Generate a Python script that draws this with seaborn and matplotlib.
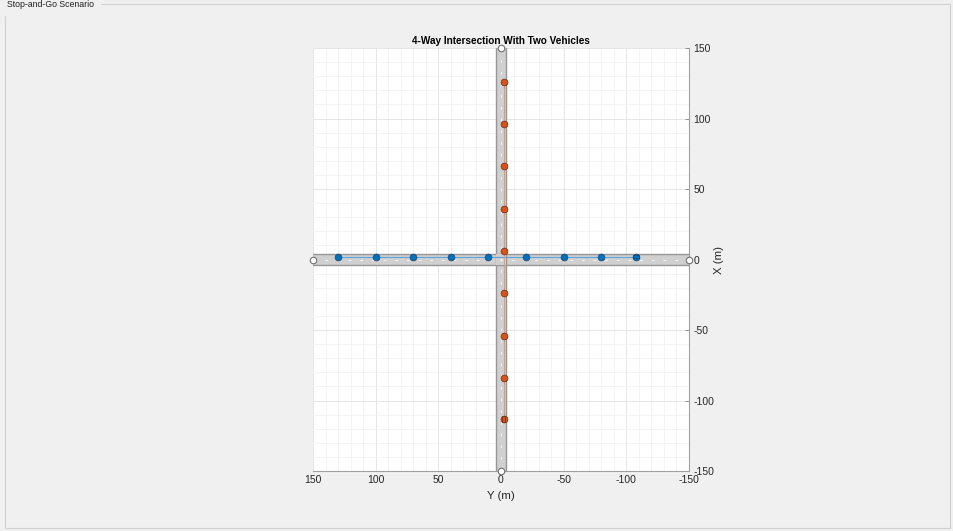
import numpy as np
import pandas as pd
import seaborn as sns
import matplotlib
matplotlib.use("Agg")
import matplotlib.pyplot as plt
from matplotlib.patches import Rectangle

# ---------------- data ----------------
title = "4-Way Intersection With Two Vehicles"
panel_title = "Stop-and-Go Scenario"
xlabel = "Y (m)"
ylabel = "X (m)"
ticks = [150, 100, 50, 0, -50, -100, -150]

# roads (centre lines) : road 1 runs along Y (X = 0), road 2 runs along X (Y = 0)
road_width = 8
road1_Y = [150, -150]
road1_X = [0, 0]
road2_Y = [0, 0]
road2_X = [150, -150]

# vehicle 1 (blue) waypoints
car1_Y = [130, 100, 70, 40, 10, -20, -50, -80, -108]
car1_X = [2, 2, 2, 2, 2, 2, 2, 2, 2]
# vehicle 2 (orange) waypoints
car2_Y = [-2, -2, -2, -2, -2, -2, -2, -2, -2]
car2_X = [126, 96, 66, 36, 6, -24, -54, -84, -113]

blue = "#0072BD"
orange = "#D95319"
bg = "#f0f0f0"

sns.set_theme(style="white")
plt.rcParams["font.family"] = ["Liberation Sans", "DejaVu Sans"]

fig = plt.figure(figsize=(9.54, 5.31), dpi=100, facecolor=bg)

# panel frame
fig.patches.append(Rectangle((5 / 954, 1 - 528 / 531), 945 / 954, 524 / 531,
                             transform=fig.transFigure, fill=False,
                             edgecolor="#d0d0d0", linewidth=0.8))
fig.text(7 / 954, 1 - 4.5 / 531, panel_title, fontsize=6.3, va="center", ha="left",
         color="#202020", backgroundcolor=bg)

ax = fig.add_axes([313 / 954, 1 - 471 / 531, 376 / 954, 423 / 531])
ax.set_facecolor("white")
ax.set_xlim(150, -150)
ax.set_ylim(-150, 150)

# grid
ax.set_xticks(ticks)
ax.set_yticks(ticks)
ax.set_xticks(np.arange(-150, 151, 10), minor=True)
ax.set_yticks(np.arange(-150, 151, 10), minor=True)
ax.grid(which="major", color="#e6e6e6", linewidth=0.7)
ax.grid(which="minor", color="#f3f3f3", linewidth=0.6)
ax.set_axisbelow(True)

road_fill = "#d0d0d0"
road_edge = "#979797"
hw = road_width / 2

# road 1 (horizontal on screen)
ax.fill_between(road1_Y, [v - hw for v in road1_X], [v + hw for v in road1_X],
                color=road_fill, zorder=2, linewidth=0)
for s in (-hw, hw):
    ax.plot(road1_Y, [v + s for v in road1_X], color=road_edge, lw=1.0, zorder=3)
# road 2 (vertical on screen)
ax.fill_betweenx(road2_X, [v - hw for v in road2_Y], [v + hw for v in road2_Y],
                 color=road_fill, zorder=2, linewidth=0)
for s in (-hw, hw):
    ax.plot([v + s for v in road2_Y], road2_X, color=road_edge, lw=1.0, zorder=3)
# clear the intersection box (edges inside crossing)
ax.add_patch(Rectangle((-hw, -hw), 2 * hw, 2 * hw, facecolor=road_fill,
                       edgecolor="none", zorder=3.5))
# lane markings
ax.plot(road1_Y, road1_X, color="#f4f4f4", lw=0.7, ls=(0, (3, 9)), zorder=4)
ax.plot(road2_Y, road2_X, color="#f4f4f4", lw=0.7, ls=(0, (3, 9)), zorder=4)
# road end points
ax.scatter([road1_Y[0], road1_Y[1], road2_Y[0], road2_Y[1]],
           [road1_X[0], road1_X[1], road2_X[0], road2_X[1]],
           s=22, facecolor="white", edgecolor="#707070", linewidth=0.8,
           zorder=6, clip_on=False)

df1 = pd.DataFrame({"Y": car1_Y, "X": car1_X})
df2 = pd.DataFrame({"Y": car2_Y, "X": car2_X})

sns.lineplot(data=df1, x="Y", y="X", sort=False, estimator=None, color="#5aa6dc",
             lw=0.8, ax=ax, zorder=5)
sns.lineplot(data=df2, x="Y", y="X", sort=False, estimator=None, color="#e89a78",
             lw=0.8, ax=ax, zorder=5)
sns.scatterplot(data=df1, x="Y", y="X", color=blue, s=24, edgecolor="#1f3f66",
                linewidth=0.5, ax=ax, zorder=7)
sns.scatterplot(data=df2, x="Y", y="X", color=orange, s=24, edgecolor="#6e2a10",
                linewidth=0.5, ax=ax, zorder=7)

# vehicles at final positions
ax.add_patch(Rectangle((car1_Y[-1] + 2.4, car1_X[-1] - 0.9), -4.7, 1.8,
                       facecolor=blue, edgecolor="#1f3f66", lw=0.5, zorder=8))
ax.add_patch(Rectangle((car2_Y[-1] - 0.9, car2_X[-1] - 2.4), 1.8, 4.7,
                       facecolor=orange, edgecolor="#6e2a10", lw=0.5, zorder=8))

# axes styling
for side in ("top", "left"):
    ax.spines[side].set_visible(False)
for side in ("right", "bottom"):
    ax.spines[side].set_visible(True)
    ax.spines[side].set_color("#a0a0a0")
    ax.spines[side].set_linewidth(0.8)
ax.yaxis.tick_right()
ax.yaxis.set_label_position("right")
ax.tick_params(axis="both", which="major", direction="in", length=3, width=0.6,
               color="#808080", labelsize=7.5, labelcolor="#262626", pad=3)
ax.tick_params(axis="both", which="minor", length=0)
ax.set_xticklabels([str(t) for t in ticks])
ax.set_yticklabels([str(t) for t in ticks])
ax.set_xlabel(xlabel, fontsize=8.2, color="#262626", labelpad=4)
ax.set_ylabel(ylabel, fontsize=8.2, color="#262626", labelpad=0, rotation=90)
ax.set_title(title, fontsize=7.2, fontweight="bold", color="black", pad=3)

fig.savefig("out.png", dpi=100, facecolor=bg)
